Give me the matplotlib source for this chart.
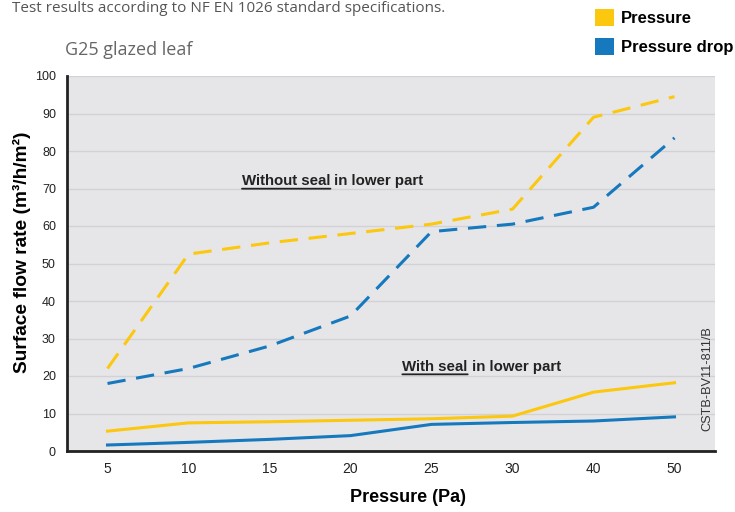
import matplotlib
matplotlib.use('Agg')
import matplotlib.pyplot as plt
from matplotlib.patches import Patch

# data
pressures = ['5', '10', '15', '20', '25', '30', '40', '50']
no_seal_pressure = [22, 52.5, 55.5, 58, 60.5, 64.5, 89, 94.5]
no_seal_drop = [18, 22, 28, 36, 58.5, 60.5, 65, 83.5]
seal_pressure = [5.3, 7.5, 7.8, 8.2, 8.6, 9.3, 15.7, 18.2]
seal_drop = [1.6, 2.3, 3.1, 4.1, 7.1, 7.6, 8.0, 9.1]
yticks = list(range(0, 101, 10))

YELLOW = '#fcc70f'
BLUE = '#1679bd'
BG = '#e6e6e9'
GRID = '#d2d2d6'

plt.rcParams['font.family'] = ['Liberation Sans', 'DejaVu Sans']

fig = plt.figure(figsize=(7.35, 5.12), dpi=100)
ax = fig.add_axes([67/735, 61/512, (715-67)/735, (450-75)/512])
ax.set_facecolor(BG)

x = list(range(len(pressures)))
ax.plot(x, no_seal_pressure, color=YELLOW, lw=2.2, dashes=(6, 3.5))
ax.plot(x, no_seal_drop, color=BLUE, lw=2.2, dashes=(6, 3.5))
ax.plot(x, seal_pressure, color=YELLOW, lw=2.2)
ax.plot(x, seal_drop, color=BLUE, lw=2.2)

ax.set_xlim(-0.5, len(pressures) - 0.5)
ax.set_ylim(0, 100)
ax.set_xticks(x)
ax.set_xticklabels(pressures)
ax.set_yticks(yticks)
ax.tick_params(length=0, colors='#222222')
ax.tick_params(axis='y', labelsize=9, pad=8)
ax.tick_params(axis='x', labelsize=10, pad=8)
ax.grid(axis='y', color=GRID, lw=1)
ax.set_axisbelow(True)
for side in ['top', 'right']:
    ax.spines[side].set_visible(False)
for side in ['left', 'bottom']:
    ax.spines[side].set_linewidth(2)
    ax.spines[side].set_color('#222222')

ax.set_ylabel('Surface flow rate (m³/h/m²)', fontsize=13.8, fontweight='bold')
ax.yaxis.set_label_coords(-0.056, 0.53)
ax.set_xlabel('Pressure (Pa)', fontsize=13, fontweight='bold')
ax.xaxis.set_label_coords(0.526, -0.102)

# annotations with underlined first part
def label(xp, yp, first, rest):
    t1 = ax.text(xp, yp, first, fontsize=10.8, fontweight='bold', color='#222222',
                 va='center', ha='left')
    ax.annotate(rest, xy=(1, 0.5), xycoords=t1, va='center', ha='left',
                fontsize=10.8, fontweight='bold', color='#222222')
    ax.annotate('', xy=(0, -0.05), xycoords=t1, xytext=(1, -0.05), textcoords=t1,
                arrowprops=dict(arrowstyle='-', lw=1.3, color='#222222',
                                shrinkA=0, shrinkB=0))

label(1.66, 72, 'Without seal', ' in lower part')
label(3.64, 22.5, 'With seal', ' in lower part')

ax.text(7.41, 19.2, 'CSTB-BV11-811/B', rotation=90, fontsize=9.2, color='#333333',
        ha='center', va='center')

fig.text(12/735, 1 - 8/512, 'Test results according to NF EN 1026 standard specifications.',
         fontsize=11, color='#555555', family='Open Sans', va='center', ha='left')
fig.text(65/735, 1 - 50/512, 'G25 glazed leaf', fontsize=13, color='#666666',
         family='Open Sans', va='center', ha='left')

handles = [Patch(facecolor=YELLOW, edgecolor='none', label='Pressure'),
           Patch(facecolor=BLUE, edgecolor='none', label='Pressure drop')]
fig.legend(handles=handles, loc='upper left', bbox_to_anchor=(580/735, 1 + 6/512),
           frameon=False, handlelength=1.15, handleheight=1.15, handletextpad=0.4,
           labelspacing=0.75, prop={'weight': 'bold', 'size': 12})

fig.savefig('out.png', dpi=100)
